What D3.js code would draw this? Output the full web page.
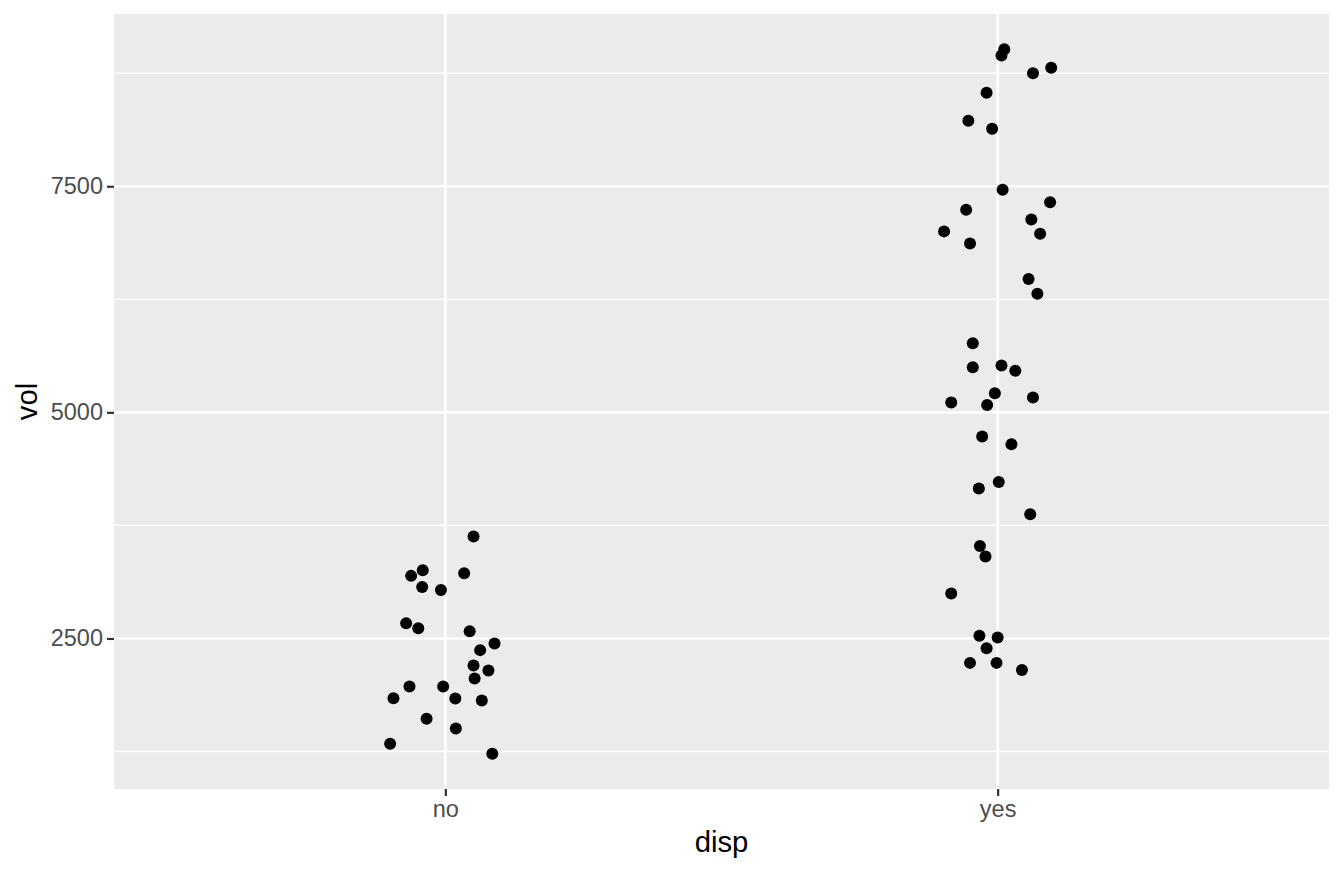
<!DOCTYPE html>
<html>
<head>
<meta charset="utf-8">
<script src="https://cdn.jsdelivr.net/npm/d3@7"></script>
<style>
  html, body { margin: 0; padding: 0; background: #ffffff; }
  svg { display: block; }
  text { font-family: "Liberation Sans", Arial, Helvetica, sans-serif; }
</style>
</head>
<body>
<svg id="chart" width="1344" height="873"></svg>
<script>
// ---- data ----
const categories = ["no", "yes"];
const yTicks = [2500, 5000, 7500];
const yMinorTicks = [1250, 3750, 6250, 8750];

const noVol = [3627, 3255, 3192, 3222, 3070, 3037, 2669, 2614, 2581, 2445, 2371, 2202,
  2146, 2058, 1970, 1970, 1840, 1837, 1815, 1612, 1505, 1335, 1225];
const noJitter = [0.051, -0.041, -0.062, 0.034, -0.042, -0.008, -0.071, -0.049, 0.044, 0.089,
  0.063, 0.051, 0.078, 0.053, -0.065, -0.004, -0.094, 0.018, 0.066, -0.034, 0.019, -0.100, 0.085];

const yesVol = [9015, 8945, 8810, 8750, 8533, 8224, 8136, 7461, 7324, 7240, 7133, 7001,
  6975, 6868, 6474, 6312, 5763, 5498, 5517, 5461, 5211, 5108, 5081, 5163, 4732, 4647,
  4230, 4158, 3874, 3523, 3406, 2997, 2529, 2511, 2393, 2230, 2230, 2150];
const yesJitter = [0.012, 0.007, 0.097, 0.064, -0.020, -0.053, -0.010, 0.009, 0.095, -0.057,
  0.061, -0.097, 0.077, -0.050, 0.056, 0.072, -0.045, -0.045, 0.007, 0.032, -0.005, -0.084,
  -0.019, 0.064, -0.028, 0.025, 0.002, -0.034, 0.059, -0.032, -0.022, -0.084, -0.033, 0.000,
  -0.020, -0.050, -0.002, 0.044];

// ---- build rows ----
const rows = [];
noVol.forEach((v, i) => rows.push({ disp: "no", vol: v, jit: noJitter[i] }));
yesVol.forEach((v, i) => rows.push({ disp: "yes", vol: v, jit: yesJitter[i] }));

// ---- layout ----
const panel = { left: 114, right: 1329, top: 14, bottom: 789 };
const svg = d3.select("#chart");

const x = d3.scalePoint().domain(categories).range([panel.left, panel.right]).padding(0.6);
const ext = d3.extent(rows, d => d.vol);
const pad = (ext[1] - ext[0]) * 0.05;
const y = d3.scaleLinear().domain([ext[0] - pad, ext[1] + pad]).range([panel.bottom, panel.top]);

// panel background
svg.append("rect")
  .attr("x", panel.left).attr("y", panel.top)
  .attr("width", panel.right - panel.left).attr("height", panel.bottom - panel.top)
  .attr("fill", "#EBEBEB");

const grid = svg.append("g");
// minor grid
grid.selectAll("line.minor").data(yMinorTicks.filter(t => t >= y.domain()[0] && t <= y.domain()[1]))
  .enter().append("line")
  .attr("x1", panel.left).attr("x2", panel.right)
  .attr("y1", d => y(d)).attr("y2", d => y(d))
  .attr("stroke", "#ffffff").attr("stroke-width", 1.3);
// major grid
grid.selectAll("line.majy").data(yTicks).enter().append("line")
  .attr("x1", panel.left).attr("x2", panel.right)
  .attr("y1", d => y(d)).attr("y2", d => y(d))
  .attr("stroke", "#ffffff").attr("stroke-width", 2.6);
grid.selectAll("line.majx").data(categories).enter().append("line")
  .attr("y1", panel.top).attr("y2", panel.bottom)
  .attr("x1", d => x(d)).attr("x2", d => x(d))
  .attr("stroke", "#ffffff").attr("stroke-width", 2.6);

// points
svg.append("g").selectAll("circle").data(rows).enter().append("circle")
  .attr("cx", d => x(d.disp) + d.jit * x.step())
  .attr("cy", d => y(d.vol))
  .attr("r", 6)
  .attr("fill", "#000000");

// axes
const yAxis = d3.axisLeft(y).tickValues(yTicks).tickSize(7).tickPadding(4).tickFormat(d3.format("d"));
const gy = svg.append("g").attr("transform", `translate(${panel.left},0)`).call(yAxis);
gy.select(".domain").remove();
gy.selectAll(".tick line").attr("stroke", "#333333").attr("stroke-width", 2.2);
gy.selectAll(".tick text").attr("fill", "#4D4D4D").attr("font-size", "23.5px")
  .attr("font-family", "'Liberation Sans', Arial, sans-serif");

const xAxis = d3.axisBottom(x).tickSize(7).tickPadding(4);
const gx = svg.append("g").attr("transform", `translate(0,${panel.bottom})`).call(xAxis);
gx.select(".domain").remove();
gx.selectAll(".tick line").attr("stroke", "#333333").attr("stroke-width", 2.2);
gx.selectAll(".tick text").attr("fill", "#4D4D4D").attr("font-size", "23.5px")
  .attr("font-family", "'Liberation Sans', Arial, sans-serif")
  .attr("y", 28).attr("dy", 0);

// axis titles
svg.append("text")
  .attr("x", (panel.left + panel.right) / 2).attr("y", 852)
  .attr("text-anchor", "middle").attr("font-size", "29.3px").attr("fill", "#000")
  .text("disp");
svg.append("text")
  .attr("transform", `translate(37,${(panel.top + panel.bottom) / 2}) rotate(-90)`)
  .attr("text-anchor", "middle").attr("font-size", "29.3px").attr("fill", "#000")
  .text("vol");
</script>
</body>
</html>
